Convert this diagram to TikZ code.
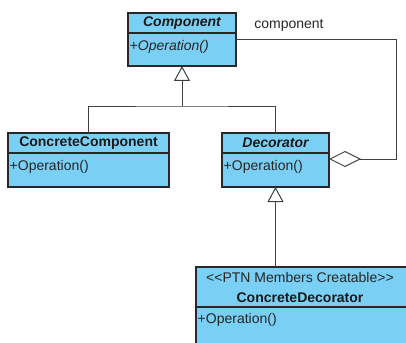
\documentclass[tikz,border=0pt]{standalone}
\usepackage{fontspec}
\setmainfont{Liberation Sans}[Ligatures=TeXOff]
\usetikzlibrary{arrows.meta}
\definecolor{classfill}{RGB}{122,207,245}
\definecolor{classline}{RGB}{40,40,40}
\definecolor{wire}{RGB}{64,64,64}
\tikzset{
  classbox/.style={draw=classline, fill=classfill, line width=1.2pt, inner sep=0pt, outer sep=0pt},
  divider/.style={draw=classline, line width=1.2pt},
  cname/.style={font=\fontsize{14}{16}\selectfont\bfseries, text=black!90, inner sep=0pt},
  member/.style={font=\fontsize{14}{16}\selectfont, text=black!85, inner sep=0pt, anchor=west},
  wireline/.style={draw=wire, line width=1pt},
  inherit/.style={wireline, -{Triangle[open, length=15pt, width=16pt, fill=white]}},
  aggr/.style={wireline, {Diamond[open, length=32pt, width=16pt, fill=white]}-}
}
\begin{document}
\begin{tikzpicture}[x=1pt, y=-1pt]
\useasboundingbox (0,0) rectangle (406,342);
\begin{scope}
\clip (0,0) rectangle (406,342);
% class boxes
\node[classbox, minimum width=108pt, minimum height=53pt] (comp) at (182,39.5) {};
\node[classbox, minimum width=161pt, minimum height=54pt] (cc) at (88.5,160) {};
\node[classbox, minimum width=107pt, minimum height=54pt] (dec) at (275.5,160) {};
\node[classbox, minimum width=230pt, minimum height=100pt] (cd) at (311,317) {};
% compartment dividers
\draw[divider] (comp.west |- 0,33) -- (comp.east |- 0,33);
\draw[divider] (cc.west |- 0,153) -- (cc.east |- 0,153);
\draw[divider] (dec.west |- 0,153) -- (dec.east |- 0,153);
\draw[divider] (cd.west |- 0,307) -- (cd.east |- 0,307);
% names and operations
\node[cname] (compname) at (182,23) {\itshape Component};
\node[member] (compop) at (129.5,47) {\itshape +Operation()};
\node[cname] (ccname) at (88.5,143) {ConcreteComponent};
\node[member] (ccop) at (9.5,167) {+Operation()};
\node[cname] (decname) at (275.5,143) {\itshape Decorator};
\node[member] (decop) at (223.5,167) {+Operation()};
\node[member, anchor=center] (cdstereo) at (300,277) {<<PTN Members Creatable>>};
\node[cname] (cdname) at (300,297.5) {ConcreteDecorator};
\node[member] (cdop) at (197.5,320) {+Operation()};
\end{scope}
% generalization connectors
\coordinate (joint) at (182,106);
\draw[wireline] (cc.north) |- (joint) -| (dec.north);
\draw[inherit] (joint) -- (comp.south);
\draw[inherit] (dec.south |- cd.north) -- (dec.south);
% aggregation back to Component
\coordinate (turn) at (396,40);
\draw[aggr] (dec.east |- 0,159) -| (turn) -- (turn -| comp.east);
\node[font=\fontsize{14}{16}\selectfont, text=black!85, inner sep=0pt] (role) at (289,25) {component};
\end{tikzpicture}
\end{document}
